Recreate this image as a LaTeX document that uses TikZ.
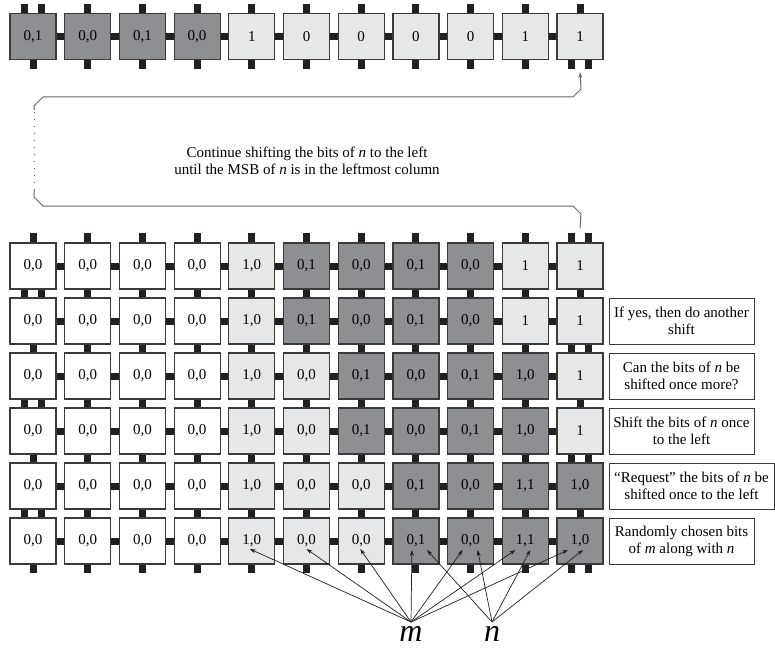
\documentclass[tikz,border=0pt]{standalone}
\usepackage{fontspec}
\setmainfont{Liberation Serif}
\usetikzlibrary{arrows.meta}

\definecolor{cellW}{HTML}{FFFFFF}
\definecolor{cellL}{HTML}{E6E7E9}
\definecolor{cellD}{HTML}{8E8F93}
\definecolor{pinBlack}{HTML}{231F20}
\definecolor{edgeGray}{HTML}{3A3A3A}
\definecolor{loopGray}{HTML}{666666}

\tikzset{
  cell/.style={draw=edgeGray, line width=1.2pt, minimum size=46pt, inner sep=0pt,
    font=\fontsize{15}{17}\selectfont},
  pin/.style={fill=pinBlack},
  note/.style={draw=edgeGray, line width=1pt, minimum height=46pt, inner sep=1pt,
    align=center, font=\fontsize{15}{17}\selectfont},
  loopline/.style={draw=loopGray, line width=1pt},
  pick/.style={-{Stealth[length=6pt,width=4pt]}, line width=0.7pt, draw=pinBlack},
  varname/.style={font=\fontsize{32}{32}\selectfont\itshape, inner sep=4pt, anchor=north}
}

\begin{document}
\begin{tikzpicture}[x=1pt,y=-1pt]
  \useasboundingbox (0,0) rectangle (775,647);

  % vertical pins, doubled where the chain turns
  \foreach \ya/\yb/\dc in {4/14/0, 59/69/10, 233/244/10, 288/299/0, 343/354/10,
      398/409/0, 453/464/10, 508/519/0, 563/573/10}{
    \foreach \c in {0,...,10}{
      \pgfmathsetmacro\xc{33+54.7*\c}
      \ifnum\c=\dc
        \fill[pin] (\xc-12,\ya) rectangle (\xc-5,\yb);
        \fill[pin] (\xc+5,\ya) rectangle (\xc+12,\yb);
      \else
        \fill[pin] (\xc-3.5,\ya) rectangle (\xc+3.5,\yb);
      \fi
    }
  }
  % horizontal links
  \foreach \y in {36.5,266,321,376,431,486,541}
    \foreach \c in {0,...,9}
      \fill[pin] (33+54.7*\c+21,\y-3.5) rectangle (33+54.7*\c+34,\y+3.5);

  % shifted row
  \foreach \s/\t [count=\c from 0] in {D/{0,1},D/{0,0},D/{0,1},D/{0,0},L/1,L/0,L/0,L/0,L/0,L/1,L/1}
    \node[cell, fill=cell\s] (t\c) at (33+54.7*\c,36.5) {\t};

  % grid rows
  \foreach \s/\t [count=\c from 0] in {W/{0,0},W/{0,0},W/{0,0},W/{0,0},L/{1,0},D/{0,1},D/{0,0},D/{0,1},D/{0,0},L/1,L/1}
    \node[cell, fill=cell\s] (g1-\c) at (33+54.7*\c,266) {\t};
  \foreach \s/\t [count=\c from 0] in {W/{0,0},W/{0,0},W/{0,0},W/{0,0},L/{1,0},D/{0,1},D/{0,0},D/{0,1},D/{0,0},L/1,L/1}
    \node[cell, fill=cell\s] (g2-\c) at (33+54.7*\c,321) {\t};
  \foreach \s/\t [count=\c from 0] in {W/{0,0},W/{0,0},W/{0,0},W/{0,0},L/{1,0},L/{0,0},D/{0,1},D/{0,0},D/{0,1},D/{1,0},L/1}
    \node[cell, fill=cell\s] (g3-\c) at (33+54.7*\c,376) {\t};
  \foreach \s/\t [count=\c from 0] in {W/{0,0},W/{0,0},W/{0,0},W/{0,0},L/{1,0},L/{0,0},D/{0,1},D/{0,0},D/{0,1},D/{1,0},L/1}
    \node[cell, fill=cell\s] (g4-\c) at (33+54.7*\c,431) {\t};
  \foreach \s/\t [count=\c from 0] in {W/{0,0},W/{0,0},W/{0,0},W/{0,0},L/{1,0},L/{0,0},L/{0,0},D/{0,1},D/{0,0},D/{1,1},D/{1,0}}
    \node[cell, fill=cell\s] (g5-\c) at (33+54.7*\c,486) {\t};
  \foreach \s/\t [count=\c from 0] in {W/{0,0},W/{0,0},W/{0,0},W/{0,0},L/{1,0},L/{0,0},L/{0,0},D/{0,1},D/{0,0},D/{1,1},D/{1,0}}
    \node[cell, fill=cell\s] (g6-\c) at (33+54.7*\c,541) {\t};

  % notes on the right
  \node[note, minimum width=145pt] (note2) at (681.5,321) {If yes, then do another\\shift};
  \node[note, minimum width=145pt] (note3) at (681.5,376) {Can the bits of \textit{n} be\\shifted once more?};
  \node[note, minimum width=145pt] (note4) at (681.5,431) {Shift the bits of \textit{n} once\\to the left};
  \node[note, minimum width=165pt] (note5) at (691.5,486) {``Request'' the bits of \textit{n} be\\shifted once to the left};
  \node[note, minimum width=145pt] (note6) at (681.5,541) {Randomly chosen bits\\of \textit{m} along with \textit{n}};

  % loop back to the shifted row
  \coordinate (loopS) at ([yshift=14pt]g1-10.north);
  \coordinate (loopE) at ([yshift=-12pt]t10.south);
  \draw[loopline] (loopS) -- (581,214) -- (573,206) -- (43,206) -- (34,197) -- (34,190);
  \draw[loopline, dash pattern=on 1pt off 6pt] (34,190) -- (34,110);
  \draw[loopline, -{Stealth[length=6pt,width=4pt]}] (34,110) -- (34,106) -- (43,97) -- (573,97) -- (581,89) -- (loopE);
  \node[font=\fontsize{15}{17}\selectfont, align=center] (shiftnote) at (307,161)
    {Continue shifting the bits of \textit{n} to the left\\until the MSB of \textit{n} is in the leftmost column};

  % m and n
  \node[varname] (mvar) at (411,622) {m};
  \node[varname] (nvar) at (492,622) {n};
  \draw[pick] (mvar.north) -- ([shift={(-2pt,-8pt)}]g6-4.center);
  \draw[pick] (mvar.north) -- ([shift={(0pt,-8pt)}]g6-5.center);
  \draw[pick] (mvar.north) -- ([shift={(-1pt,-8pt)}]g6-6.center);
  \draw[pick] (mvar.north) -- ([shift={(-4pt,-9pt)}]g6-7.center);
  \draw[pick] (mvar.north) -- ([shift={(-8pt,-9pt)}]g6-8.center);
  \draw[pick] (mvar.north) -- ([shift={(-10pt,-9pt)}]g6-9.center);
  \draw[pick] (mvar.north) -- ([shift={(-12pt,-9pt)}]g6-10.center);
  \draw[pick] (nvar.north) -- ([shift={(11pt,-9pt)}]g6-7.center);
  \draw[pick] (nvar.north) -- ([shift={(7pt,-9pt)}]g6-8.center);
  \draw[pick] (nvar.north) -- ([shift={(5pt,-9pt)}]g6-9.center);
  \draw[pick] (nvar.north) -- ([shift={(3pt,-9pt)}]g6-10.center);
\end{tikzpicture}
\end{document}
